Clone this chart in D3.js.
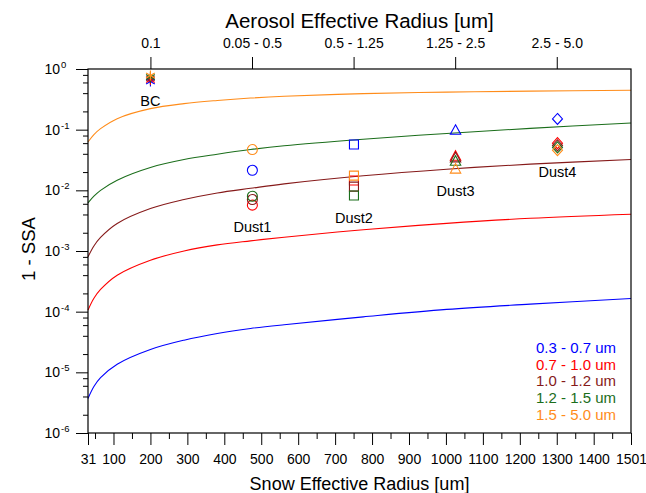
<!DOCTYPE html>
<html>
<head>
<meta charset="utf-8">
<script src="https://cdn.jsdelivr.net/npm/d3@7"></script>
<style>
  body { margin: 0; background: #fff; }
  text { font-family: "Liberation Sans", Arial, sans-serif; fill: #000; }
</style>
</head>
<body>
<div id="chartArea"></div>
<script>
// snow effective radius [um] sampled along the curves
const radius = [31, 47, 65, 110, 200, 291, 381, 471, 562, 776, 1002, 1228, 1501];
const ssaBlue = [3.7e-6, 5.83e-6, 8.17e-6, 1.36e-5, 2.38e-5, 3.39e-5, 4.37e-5, 5.28e-5, 6.1e-5, 8.2e-5, 1.09e-4, 1.33e-4, 1.65e-4];
const ssaRed = [1.06e-4, 1.66e-4, 2.32e-4, 3.99e-4, 7.05e-4, 1.0e-3, 1.26e-3, 1.47e-3, 1.69e-3, 2.24e-3, 2.85e-3, 3.46e-3, 4.04e-3];
const ssaBrown = [8.0e-4, 1.21e-3, 1.67e-3, 2.84e-3, 5.0e-3, 7.05e-3, 9.06e-3, 1.08e-2, 1.28e-2, 1.74e-2, 2.23e-2, 2.7e-2, 3.22e-2];
const ssaGreen = [6.2e-3, 8.0e-3, 1.0e-2, 1.47e-2, 2.38e-2, 3.22e-2, 3.94e-2, 4.7e-2, 5.43e-2, 6.95e-2, 8.67e-2, 1.05e-1, 1.29e-1];
const ssaOrange = [0.0627, 0.083, 0.104, 0.152, 0.222, 0.269, 0.303, 0.332, 0.355, 0.392, 0.416, 0.432, 0.446];

// aerosols, placed along the snow radius axis
const aerosolNames = ['BC', 'Dust1', 'Dust2', 'Dust3', 'Dust4'];
const aerosolX = [200, 476, 751, 1026, 1302];
const aerosolBlue = [0.62, 0.0214, 0.0568, 0.095, 0.150];
const aerosolRed = [0.66, 0.0057, 0.0145, 0.0355, 0.060];
const aerosolBrown = [0.70, 0.00705, 0.0115, 0.0334, 0.055];
const aerosolGreen = [0.74, 0.0080, 0.0082, 0.0294, 0.051];
const aerosolOrange = [0.78, 0.047, 0.0175, 0.0218, 0.046];
const aerosolLabelY = [0.305, 2.47e-3, 3.47e-3, 9.85e-3, 0.0199];

const bandLabels = ['0.3 - 0.7 um', '0.7 - 1.0 um', '1.0 - 1.2 um', '1.2 - 1.5 um', '1.5 - 5.0 um'];
const bandColors = ['#0000ff', '#ff0000', '#861a1a', '#1b6e1b', '#ff8c1a'];

const topTickVals = [200, 475, 750, 1025, 1300];
const topTickLabels = ['0.1', '0.05 - 0.5', '0.5 - 1.25', '1.25 - 2.5', '2.5 - 5.0'];
const bottomTickVals = [31, 100, 200, 300, 400, 500, 600, 700, 800, 900, 1000, 1100, 1200, 1300, 1400, 1501];
const bottomMinorVals = [50, 150, 250, 350, 450, 550, 650, 750, 850, 950, 1050, 1150, 1250, 1350, 1450];
const yExponents = [0, -1, -2, -3, -4, -5, -6];

const curves = [ssaBlue, ssaRed, ssaBrown, ssaGreen, ssaOrange];
const aerosolSeries = [aerosolBlue, aerosolRed, aerosolBrown, aerosolGreen, aerosolOrange];

const width = 646;
const height = 493;
const margin = { top: 69, left: 88, bottom: 60, right: 15 };
const iwidth = width - margin.left - margin.right;
const iheight = height - margin.top - margin.bottom;

const svg = d3.select('#chartArea').append('svg')
  .attr('width', width)
  .attr('height', height);

const g = svg.append('g')
  .attr('transform', `translate(${margin.left},${margin.top})`);

const x = d3.scaleLinear().domain([31, 1501]).range([0, iwidth]);
const y = d3.scaleLog().domain([1e-6, 1]).range([iheight, 0]);

// curves
const line = d3.line()
  .x((d) => x(d[0]))
  .y((d) => y(d[1]))
  .curve(d3.curveCatmullRom.alpha(0.5));

curves.forEach((vals, i) => {
  g.append('path')
    .datum(radius.map((r, j) => [r, vals[j]]))
    .attr('fill', 'none')
    .attr('stroke', bandColors[i])
    .attr('stroke-width', 1.1)
    .attr('d', line);
});

// markers
const markerPath = [
  d3.symbol(d3.symbolAsterisk, 70)(),
  'M0,-5A5,5 0 1,1 0,5A5,5 0 1,1 0,-5Z',
  'M-4.5,-4.5H4.5V4.5H-4.5Z',
  'M0,-6.2L5.2,3.3H-5.2Z',
  'M0,-5.5L5,0L0,5.5L-5,0Z'
];

aerosolSeries.forEach((vals, i) => {
  aerosolX.forEach((ax, k) => {
    g.append('path')
      .attr('d', markerPath[k])
      .attr('transform', `translate(${x(ax)},${y(vals[k])})`)
      .attr('fill', 'none')
      .attr('stroke', bandColors[i])
      .attr('stroke-width', 1.1);
  });
});

aerosolNames.forEach((name, k) => {
  g.append('text')
    .attr('x', x(aerosolX[k]))
    .attr('y', y(aerosolLabelY[k]))
    .attr('dy', '0.36em')
    .attr('text-anchor', 'middle')
    .style('font-size', '14.5px')
    .text(name);
});

// bottom axis
const xb = g.append('g').attr('transform', `translate(0,${iheight})`)
  .call(d3.axisBottom(x).tickValues(bottomTickVals).tickSize(12).tickSizeOuter(0).tickPadding(9).tickFormat(d3.format('d')));
xb.select('.domain').remove();
xb.selectAll('text').style('font-size', '14px').style('font-family', '"Liberation Sans", Arial, sans-serif');
const xbm = g.append('g').attr('transform', `translate(0,${iheight})`)
  .call(d3.axisBottom(x).tickValues(bottomMinorVals).tickSize(6).tickFormat(''));
xbm.select('.domain').remove();

// top axis
const xt = g.append('g')
  .call(d3.axisTop(x).tickValues(topTickVals).tickSize(12).tickPadding(9).tickFormat((d, i) => topTickLabels[i]));
xt.select('.domain').remove();
xt.selectAll('text').style('font-size', '14px').style('font-family', '"Liberation Sans", Arial, sans-serif');

// left axis
const yl = g.append('g')
  .call(d3.axisLeft(y).tickValues(yExponents.map((e) => Math.pow(10, e))).tickSize(12).tickFormat(''));
yl.select('.domain').remove();
const minorY = [];
yExponents.slice(0, -1).forEach((e) => {
  [2, 4, 6, 8].forEach((m) => minorY.push(m * Math.pow(10, e - 1)));
});
const ylm = g.append('g')
  .call(d3.axisLeft(y).tickValues(minorY).tickSize(5).tickFormat(''));
ylm.select('.domain').remove();
g.selectAll('.tick line').attr('stroke', '#000');

yExponents.forEach((e) => {
  g.append('text')
    .attr('x', -28)
    .attr('y', y(Math.pow(10, e)) + 5)
    .attr('text-anchor', 'end')
    .style('font-size', '14px')
    .text('10');
  g.append('text')
    .attr('x', -27)
    .attr('y', y(Math.pow(10, e)) - 1)
    .style('font-size', '9.5px')
    .text(e === 0 ? '0' : String(e));
});

// frame
g.append('rect')
  .attr('width', iwidth)
  .attr('height', iheight)
  .attr('fill', 'none')
  .attr('stroke', '#000')
  .attr('stroke-width', 1.2);

// titles
svg.append('text')
  .attr('x', margin.left + iwidth / 2)
  .attr('y', 28)
  .attr('text-anchor', 'middle')
  .style('font-size', '20.5px')
  .text('Aerosol Effective Radius [um]');

svg.append('text')
  .attr('x', margin.left + iwidth / 2)
  .attr('y', 490)
  .attr('text-anchor', 'middle')
  .style('font-size', '18px')
  .text('Snow Effective Radius [um]');

svg.append('text')
  .attr('transform', `translate(35,${margin.top + iheight / 2 - 2}) rotate(-90)`)
  .attr('text-anchor', 'middle')
  .style('font-size', '18.5px')
  .text('1 - SSA');

// legend
bandLabels.forEach((lab, i) => {
  svg.append('text')
    .attr('x', 616)
    .attr('y', 353 + i * 16.7)
    .attr('text-anchor', 'end')
    .style('font-size', '15px')
    .style('fill', bandColors[i])
    .text(lab);
});
</script>
</body>
</html>
